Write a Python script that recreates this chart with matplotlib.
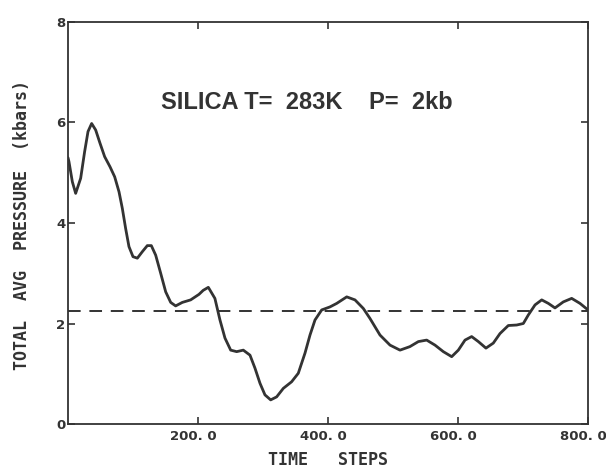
import matplotlib
matplotlib.use('Agg')
import matplotlib.pyplot as plt
from matplotlib.transforms import ScaledTranslation

steps = [0, 1.5, 6.7, 11.8, 19.5, 25.6, 30.8, 36.4, 42.6, 49.2, 56.4, 64.6,
         71.8, 78.5, 83.6, 88.7, 93.8, 100, 106.7, 114.4, 122, 128.2, 134.9,
         142.6, 150.3, 158, 165.6, 175.9, 188.7, 201.5, 208, 215.9, 226,
         233.8, 241.5, 250.3, 259.5, 269.7, 280, 287.7, 295.4, 303, 311.8,
         321, 331.3, 344, 354.3, 364.6, 372.3, 380, 390.3, 403, 413.4, 428.8,
         441.5, 454.3, 464.6, 480, 495.4, 510.8, 526, 539, 551.8, 564.6,
         577.4, 590.3, 600.5, 610.8, 621, 631.3, 643, 654.3, 664.6, 677.4,
         690.3, 700.5, 708.2, 718.5, 728.8, 739, 749.2, 762, 774.9, 787.7, 800]
pressure = [5.30, 5.22, 4.82, 4.59, 4.89, 5.42, 5.82, 5.98, 5.85, 5.59, 5.32,
            5.12, 4.92, 4.62, 4.29, 3.89, 3.53, 3.33, 3.30, 3.43, 3.55, 3.55,
            3.36, 3.00, 2.63, 2.42, 2.35, 2.42, 2.47, 2.58, 2.66, 2.72, 2.50,
            2.07, 1.71, 1.47, 1.44, 1.47, 1.37, 1.11, 0.81, 0.58, 0.48, 0.54,
            0.71, 0.84, 1.01, 1.41, 1.77, 2.07, 2.27, 2.33, 2.40, 2.53, 2.47,
            2.30, 2.10, 1.77, 1.57, 1.47, 1.54, 1.64, 1.67, 1.57, 1.44, 1.34,
            1.47, 1.67, 1.74, 1.64, 1.51, 1.61, 1.80, 1.96, 1.97, 2.00, 2.17,
            2.37, 2.47, 2.40, 2.31, 2.43, 2.50, 2.40, 2.27]
target_p = 2.25

xticks = [200, 400, 600, 800]
xlabels = ['200. 0', '400. 0', '600. 0', '800. 0']
yticks = [0, 2, 4, 6, 8]

ink = '#333333'
fig = plt.figure(figsize=(6.06, 4.68), dpi=100)
ax = fig.add_axes([0.1122, 0.094, 0.8581, 0.859])

ax.plot(steps, pressure, color=ink, lw=2.0, solid_joinstyle='round',
        solid_capstyle='round')
ax.axhline(target_p, color=ink, lw=1.4, dashes=(6.5, 4.5))

ax.set_xlim(0, 800)
ax.set_ylim(0, 8)
ax.set_xticks(xticks)
ax.set_xticklabels(xlabels)
ax.set_yticks(yticks)
ax.tick_params(direction='in', length=5, width=1.2, color=ink, labelcolor=ink,
               top=True, right=True, labelsize=9.5, pad=4)
ax.tick_params(axis='y', pad=2)
shift = ScaledTranslation(-5 / 100, 0, fig.dpi_scale_trans)
for lab in ax.get_xticklabels():
    lab.set_transform(lab.get_transform() + shift)
for lab in ax.get_xticklabels() + ax.get_yticklabels():
    lab.set_fontweight('bold')
for s in ax.spines.values():
    s.set_color(ink)
    s.set_linewidth(1.3)

ax.text(0.46, 0.80, 'SILICA T=  283K    P=  2kb', transform=ax.transAxes,
        ha='center', va='center', fontsize=17, color=ink,
        family='Liberation Sans', fontweight='bold')

ax.set_xlabel('TIME   STEPS', fontsize=12, color=ink, family='DejaVu Sans Mono',
              fontweight='bold', va='center')
ax.set_ylabel('TOTAL  AVG  PRESSURE  (kbars)', fontsize=12, color=ink,
              family='DejaVu Sans Mono', fontweight='bold', va='center')
ax.xaxis.set_label_coords(0.5, -0.09)
ax.yaxis.set_label_coords(-0.088, 0.495)

fig.savefig('out.png', dpi=100)
